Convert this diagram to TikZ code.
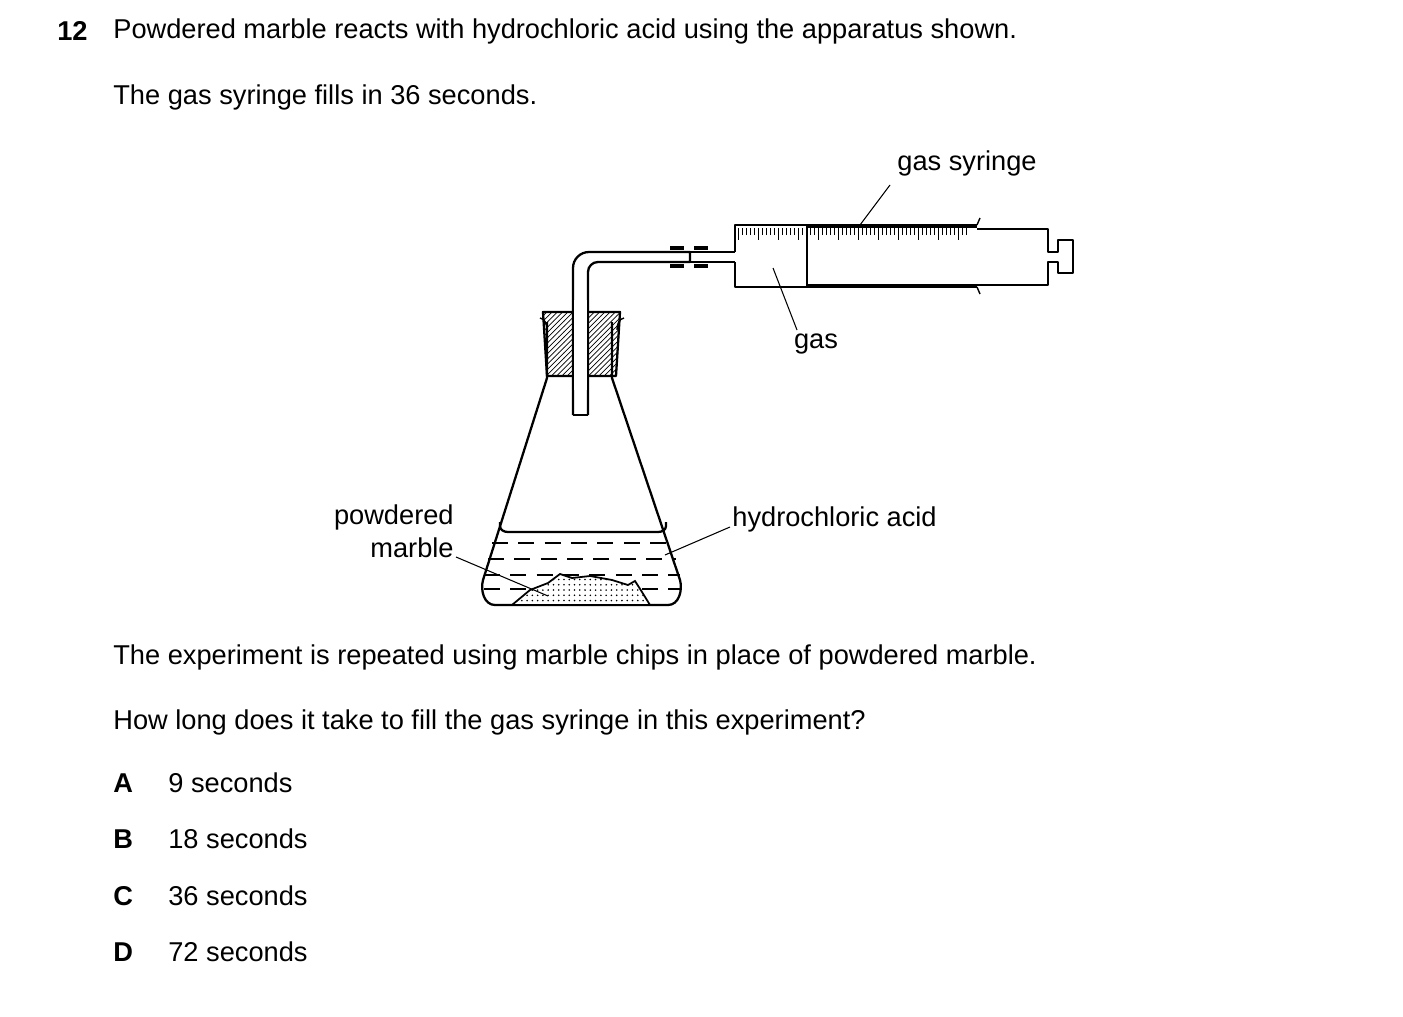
\documentclass[tikz,border=0pt]{standalone}
\usepackage{fontspec}
\setmainfont{Liberation Sans}
\usetikzlibrary{patterns}
\begin{document}
\begin{tikzpicture}[x=0.02cm,y=-0.02cm,
    txt/.style={font=\fontsize{15.5}{19}\selectfont,inner sep=0pt},
    glass/.style={line width=1.3pt,line join=round},
    lbl/.style={line width=0.6pt}]
\useasboundingbox (0,0) rectangle (1403,1017);
% question text
\node[txt,anchor=west,font=\fontsize{15.5}{19}\selectfont\bfseries] (num) at (57,31) {12};
\node[txt,anchor=west] (q1) at (113,31) {Powdered marble reacts with hydrochloric acid using the apparatus shown.};
\node[txt,anchor=west] (q2) at (113,97) {The gas syringe fills in 36 seconds.};
\node[txt,anchor=west] (q3) at (113,657) {The experiment is repeated using marble chips in place of powdered marble.};
\node[txt,anchor=west] (q4) at (113,722) {How long does it take to fill the gas syringe in this experiment?};
\foreach \l/\t/\y in {A/9/783,B/18/839,C/36/896,D/72/952}{
  \node[txt,anchor=west,font=\fontsize{15.5}{19}\selectfont\bfseries] (opt\l) at (113,\y) {\l};
  \node[txt,anchor=west] (ans\l) at (168,\y) {\t\ seconds};
}
% flask
\draw[glass] (547,322) -- (547,378) -- (483,580) to[out=-105,in=180] (495,605) -- (668,605) to[out=0,in=-75] (680,580) -- (612,378) -- (612,322);
\draw[line width=0.8pt] (540,318) to[out=-10,in=90] (547,330);
\draw[line width=0.8pt] (624,318) to[out=190,in=90] (617,330);
% liquid
\draw[glass] (500,522) -- (500,526) to[out=-90,in=180] (508,532) -- (658,532) to[out=0,in=-90] (666,526) -- (666,522);
\foreach \y/\a/\b in {543/492/672,559/488/676,575/484/680,589/484/680}
  \draw[line width=0.7pt,dash pattern=on 9pt off 6pt] (\a,\y) -- (\b,\y);
% marble powder
\draw[line width=1pt,fill=white,postaction={pattern=dots}] (512,605) -- (530,590) -- (548,583) -- (560,574) -- (572,578) -- (590,576) -- (612,580) -- (628,585) -- (635,581) -- (642,592) -- (650,605) -- cycle;
% stopper
\draw[glass,fill=white,pattern=north east lines] (543,312) -- (620,312) -- (616,376) -- (547,376) -- cycle;
% tube
\draw[glass,fill=white] (573,415) -- (573,268) to[out=90,in=180] (589,252) -- (690,252) -- (690,262) -- (598,262) to[out=180,in=90] (588,272) -- (588,415);
\draw[glass,fill=white] (573,415) -- (588,415);
\draw[glass,fill=white,draw=none] (574,300) rectangle (587,390);
\draw[glass] (573,300) -- (573,390) (588,300) -- (588,390);
% connector
\draw[line width=2pt] (670,248) -- (684,248) (670,266) -- (684,266) (694,248) -- (708,248) (694,266) -- (708,266);
\draw[glass] (684,252) -- (694,252) (684,262) -- (694,262);
\draw[glass] (690,252) -- (735,252) (690,262) -- (735,262);
% syringe barrel
\draw[glass] (735,252) -- (735,225) -- (977,225) (735,262) -- (735,287) -- (977,287);
\draw[line width=0.8pt] (977,225) to[out=90,in=-90] (980,218);
\draw[line width=0.8pt] (977,287) to[out=-90,in=90] (980,294);
% plunger
\draw[glass] (807,225) -- (807,287);
\draw[line width=2.2pt] (807,226) -- (977,226) (807,286) -- (977,286);
\draw[glass] (977,229) -- (1048,229) -- (1048,252) -- (1058,252) -- (1058,240) -- (1073,240) -- (1073,273) -- (1058,273) -- (1058,262) -- (1048,262) -- (1048,285) -- (977,285);
% scale
\foreach \i in {0,...,57}{
  \pgfmathsetmacro\xx{738+\i*4}
  \pgfmathtruncatemacro\m{mod(\i,5)}
  \ifnum\m=0 \draw[line width=0.5pt] (\xx,228) -- (\xx,240); \else \draw[line width=0.5pt] (\xx,228) -- (\xx,235); \fi
}
% labels
\node[txt] (syr) at (967,163) {gas syringe};
\draw[lbl] (890,185) -- (860,225);
\node[txt] (gas) at (816,344) {gas};
\draw[lbl] (797,330) -- (773,268);
\node[txt,anchor=west] (acid) at (732,519) {hydrochloric acid};
\draw[lbl] (730,527) -- (665,555);
\node[txt,anchor=east,align=right] (pm) at (454,531) {powdered\\marble};
\draw[lbl] (456,557) -- (548,596);
\end{tikzpicture}
\end{document}
